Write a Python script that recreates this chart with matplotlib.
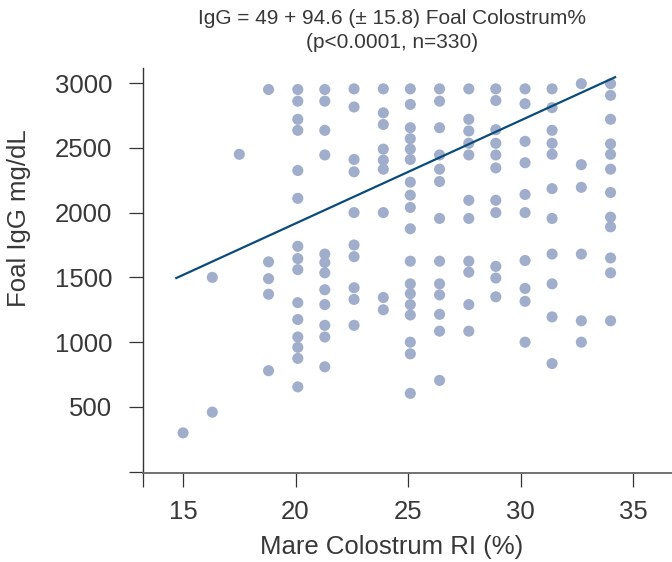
import numpy as np
import matplotlib
matplotlib.use("Agg")
import matplotlib.pyplot as plt

plt.rcParams['font.family'] = ['Liberation Sans', 'DejaVu Sans']

# mare colostrum RI columns and the foal IgG values
ri_levels = [15.0, 16.3, 17.5, 18.8, 20.1, 21.3, 22.6, 23.9,
             25.1, 26.4, 27.7, 28.9, 30.2, 31.4, 32.7, 34.0]
igg_cols = [
    [300],
    [1500, 460],
    [2450],
    [2950, 1620, 1490, 1370, 780],
    [2950, 2860, 2720, 2635, 2325, 2110, 1740, 1645, 1560, 1305, 1175, 1040, 960, 875, 655],
    [2950, 2860, 2635, 2445, 1680, 1615, 1535, 1405, 1290, 1130, 1040, 810],
    [2955, 2815, 2410, 2315, 2000, 1750, 1660, 1420, 1330, 1130],
    [2955, 2770, 2680, 2490, 2405, 2335, 2000, 1345, 1250],
    [2955, 2835, 2655, 2570, 2490, 2410, 2235, 2135, 2040, 1875, 1625, 1450, 1375, 1290, 1210, 1000, 910, 605],
    [2955, 2860, 2655, 2445, 2335, 2240, 1955, 1625, 1450, 1365, 1215, 1085, 705],
    [2955, 2720, 2630, 2535, 2445, 2095, 1955, 1625, 1540, 1290, 1085],
    [2955, 2865, 2640, 2535, 2445, 2345, 2095, 2000, 1585, 1495, 1350],
    [2955, 2840, 2550, 2385, 2140, 2000, 1630, 1415, 1315, 1000],
    [2955, 2810, 2635, 2535, 2450, 2185, 1955, 1680, 1450, 1195, 835],
    [2995, 2370, 2195, 1680, 1165, 1000],
    [2995, 2905, 2720, 2530, 2450, 2335, 2155, 1965, 1890, 1650, 1535, 1165],
]

# fitted line end points as drawn
fit_x = [14.7, 34.2]
fit_y = [1495, 3045]

x = []
y = []
for lvl, col in zip(ri_levels, igg_cols):
    for v in col:
        x.append(lvl)
        y.append(v)

txt = '#383838'

fig = plt.figure(figsize=(6.72, 5.62), dpi=100)
ax = fig.add_axes([143 / 672, 1 - 473.3 / 562, (672 - 143) / 672, (473.3 - 68) / 562])

ax.scatter(x, y, s=64, color='#a0aecb', edgecolors='none', zorder=2)
ax.plot(fit_x, fit_y, color='#0a4b7a', lw=1.6, zorder=3)

xmin, xmax = 13.22, 36.73
ax.set_xlim(xmin, xmax)
ax.set_ylim(-12, 3116)

ax.set_xticks([xmin, 15, 20, 25, 30, 35])
ax.set_xticklabels(['', '15', '20', '25', '30', '35'])
ax.set_yticks([0, 500, 1000, 1500, 2000, 2500, 3000])
ax.set_yticklabels(['', '500', '1000', '1500', '2000', '2500', '3000'])

for s in ['top', 'right']:
    ax.spines[s].set_visible(False)
ax.spines['left'].set_color('#333333')
ax.spines['bottom'].set_color('#666666')
ax.spines['left'].set_linewidth(1.0)
ax.spines['bottom'].set_linewidth(1.3)

ax.tick_params(axis='both', direction='out', length=10, width=0.9, color='#333333',
               labelsize=18.5, labelcolor=txt)
ax.tick_params(axis='x', pad=9)
ax.tick_params(axis='y', pad=12)

fig.text(392 / 672, 1 - 19 / 562, 'IgG = 49 + 94.6 (± 15.8) Foal Colostrum%',
         ha='center', va='center', fontsize=15, color=txt)
fig.text(392 / 672, 1 - 43 / 562, '(p<0.0001, n=330)',
         ha='center', va='center', fontsize=15, color=txt)
fig.text(19 / 672, 1 - 218 / 562, 'Foal IgG mg/dL', rotation=90,
         ha='center', va='center', fontsize=18.5, color=txt)
fig.text(392 / 672, 1 - 547 / 562, 'Mare Colostrum RI (%)',
         ha='center', va='center', fontsize=18.5, color=txt)

fig.savefig('out.png', dpi=100)
